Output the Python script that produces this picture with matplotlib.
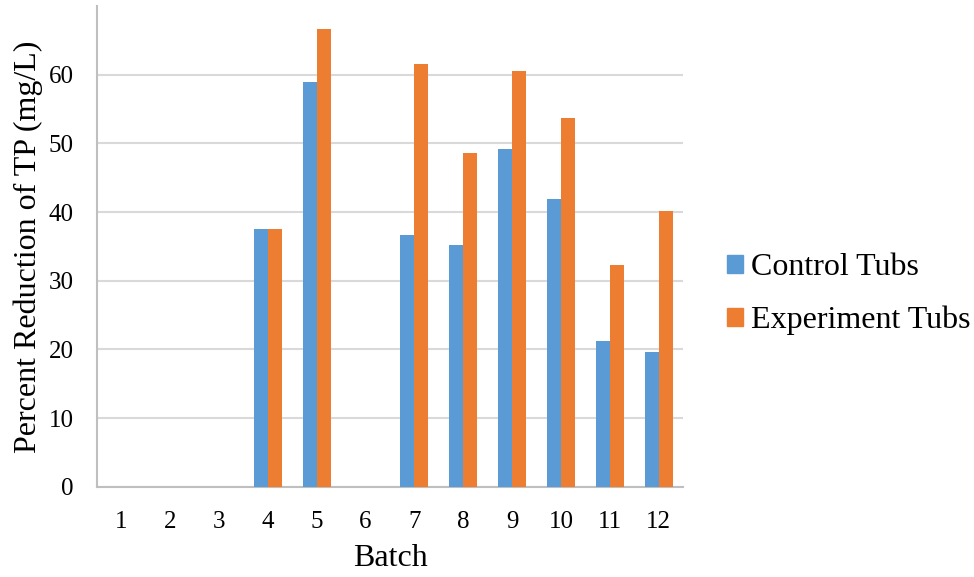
import matplotlib

matplotlib.use("Agg")
import matplotlib.pyplot as plt
import numpy as np
from matplotlib.patches import Patch

batches = [str(i) for i in range(1, 13)]
control = [0, 0, 0, 37.5, 58.9, 0, 36.6, 35.2, 49.2, 41.9, 21.2, 19.7]
experiment = [0, 0, 0, 37.5, 66.6, 0, 61.5, 48.6, 60.5, 53.7, 32.3, 40.1]

plt.rcParams["font.family"] = ["Liberation Serif", "DejaVu Serif"]

BLUE = "#5b9bd5"
ORANGE = "#ed7d31"

fig = plt.figure(figsize=(9.74, 5.77), dpi=100)
ax = fig.add_axes([0.0996, 0.156, 0.6016, 0.834])

x = np.arange(len(batches))
w = 0.2857
ax.bar(x - w / 2, control, w, color=BLUE, zorder=3)
ax.bar(x + w / 2, experiment, w, color=ORANGE, zorder=3)

ax.set_xlim(-0.5, len(batches) - 0.5)
ax.set_ylim(0, 70)
ax.set_yticks(range(0, 61, 10))
ax.set_xticks(x)
ax.set_xticklabels(batches)
ax.tick_params(length=0, labelsize=18)
ax.tick_params(axis="x", pad=17)
ax.tick_params(axis="y", pad=17)
ax.grid(axis="y", color="#d9d9d9", lw=1.5, zorder=0)

for s in ("top", "right"):
    ax.spines[s].set_visible(False)
for s in ("left", "bottom"):
    ax.spines[s].set_color("#bfbfbf")
    ax.spines[s].set_linewidth(1.5)

ax.set_xlabel("Batch", fontsize=23, labelpad=8)
ax.set_ylabel("Percent Reduction of TP (mg/L)", fontsize=23, labelpad=4)

handles = [Patch(color=BLUE, label="Control Tubs"),
           Patch(color=ORANGE, label="Experiment Tubs")]
fig.legend(handles=handles, loc="center left", bbox_to_anchor=(0.717, 0.49),
           frameon=False, fontsize=23, handlelength=0.5, handleheight=0.5,
           handletextpad=0.25, labelspacing=0.75)

fig.savefig("out.png", dpi=100)
